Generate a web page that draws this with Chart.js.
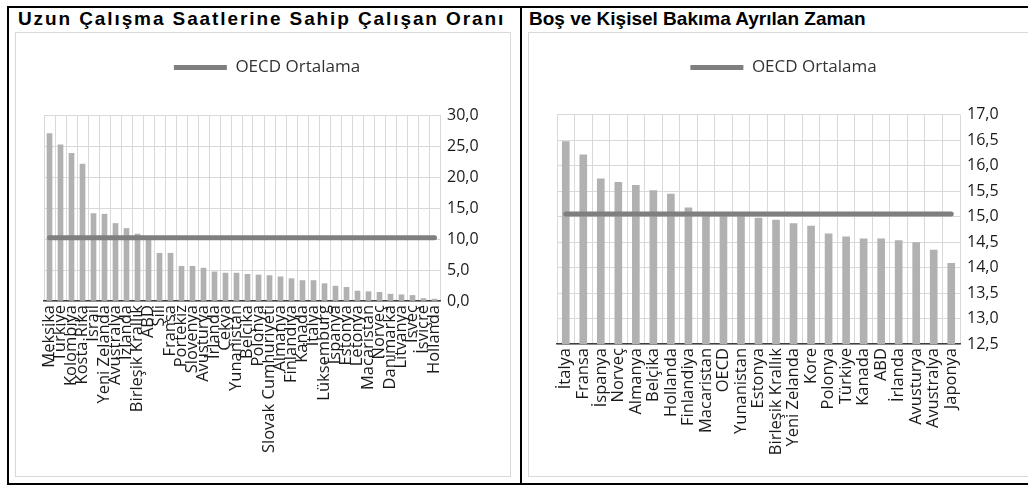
<!DOCTYPE html>
<html lang="tr">
<head>
<meta charset="utf-8">
<script src="https://cdn.jsdelivr.net/npm/chart.js@4.4.1/dist/chart.umd.min.js"></script>
<style>
  html, body { margin: 0; padding: 0; background: #fff; width: 1028px; height: 490px; overflow: hidden; }
  body { position: relative; font-family: "Liberation Sans", Arial, sans-serif; }
  .rule { position: absolute; background: #000; }
  .ttl { position: absolute; top: 8px; font-weight: bold; font-size: 19px; color: #000; white-space: nowrap; }
  .frame { position: absolute; top: 32px; height: 445px; border: 1px solid #d9d9d9; box-sizing: border-box; }
  .frame canvas { position: absolute; left: 0; top: 0; }
</style>
</head>
<body>
<div class="rule" style="left:7px;top:6px;width:1030px;height:2px"></div>
<div class="rule" style="left:7px;top:6px;width:2px;height:479px"></div>
<div class="rule" style="left:7px;top:483px;width:1030px;height:2px"></div>
<div class="rule" style="left:520px;top:6px;width:2px;height:479px"></div>

<div class="ttl" style="left:18px;letter-spacing:1.9px">Uzun Çalışma Saatlerine Sahip Çalışan Oranı</div>
<div class="ttl" style="left:529px">Boş ve Kişisel Bakıma Ayrılan Zaman</div>

<div class="frame" style="left:15px;width:496px"><canvas id="left" width="494" height="443"></canvas></div>
<div class="frame" style="left:528px;width:520px"><canvas id="right" width="510" height="443"></canvas></div>

<script>
'use strict';
// --- Sol grafik: uzun çalışma saatlerine sahip çalışan oranı (%) ---
const LEFT_LABELS = ['Meksika', 'Türkiye', 'Kolombiya', 'Kosta Rika', 'İsrail', 'Yeni Zelanda', 'Avustralya', 'İzlanda',
  'Birleşik Krallık', 'ABD', 'Şili', 'Fransa', 'Portekiz', 'Slovenya', 'Avusturya', 'İrlanda', 'Çekya', 'Yunanistan',
  'Belçika', 'Polonya', 'Slovak Cumhuriyeti', 'Almanya', 'Finlandiya', 'Kanada', 'İtalya', 'Lüksemburg', 'İspanya',
  'Estonya', 'Letonya', 'Macaristan', 'Norveç', 'Danimarka', 'Litvanya', 'İsveç', 'İsviçre', 'Hollanda'];
const LEFT_VALUES = [27.0, 25.2, 23.8, 22.1, 14.1, 14.0, 12.5, 11.7, 10.8, 10.3, 7.7, 7.7, 5.6, 5.6, 5.3, 4.7, 4.5, 4.5,
  4.3, 4.2, 4.1, 3.9, 3.6, 3.3, 3.3, 2.8, 2.4, 2.2, 1.6, 1.5, 1.4, 1.1, 1.0, 0.9, 0.4, 0.3];
const LEFT_OECD = 10.2;
const LEFT_TICKS = { min: 0, max: 30, step: 5 };

// --- Sağ grafik: boş ve kişisel bakıma ayrılan zaman (saat/gün) ---
const RIGHT_LABELS = ['İtalya', 'Fransa', 'İspanya', 'Norveç', 'Almanya', 'Belçika', 'Hollanda', 'Finlandiya', 'Macaristan',
  'OECD', 'Yunanistan', 'Estonya', 'Birleşik Krallık', 'Yeni Zelanda', 'Kore', 'Polonya', 'Türkiye', 'Kanada', 'ABD',
  'İrlanda', 'Avusturya', 'Avustralya', 'Japonya'];
const RIGHT_VALUES = [16.47, 16.21, 15.74, 15.67, 15.61, 15.51, 15.44, 15.17, 15.06, 15.04, 15.02, 14.97, 14.93, 14.86,
  14.81, 14.66, 14.60, 14.56, 14.56, 14.53, 14.49, 14.34, 14.08];
const RIGHT_OECD = 15.05;
const RIGHT_TICKS = { min: 12.5, max: 17, step: 0.5 };

const BAR = '#b1b1b1', LINE = '#7f7f7f', GRID = '#d9d9d9', TXT = '#1a1a1a';
const fNum = v => v.toFixed(1).replace('.', ',');

// legend ile çizim alanı arasına boşluk ekler
const legendGap = {
  id: 'legendGap',
  beforeInit(chart, _a, opts) {
    const fit = chart.legend.fit;
    chart.legend.fit = function () { fit.bind(chart.legend)(); this.height += opts.gap; };
  },
};

function build(id, labels, values, oecd, ticks, o) {
  new Chart(document.getElementById(id).getContext('2d'), {
    data: {
      labels,
      datasets: [
        { type: 'bar', label: 'Değer', data: values, backgroundColor: BAR, borderWidth: 0, barThickness: o.bar, order: 2 },
        { type: 'line', label: 'OECD Ortalama', data: labels.map(() => oecd), borderColor: LINE, backgroundColor: LINE,
          borderWidth: 5, borderCapStyle: 'round', pointRadius: 0, order: 1 },
      ],
    },
    plugins: [legendGap],
    options: {
      responsive: false, animation: false, events: [],
      layout: { padding: { left: o.left, right: o.right, top: 16, bottom: 0 } },
      plugins: {
        tooltip: { enabled: false },
        legendGap: { gap: o.gap },
        legend: {
          position: 'top',
          labels: {
            color: '#333', font: { family: 'Open Sans', size: 17 }, boxWidth: 53, boxHeight: 5, padding: 10,
            generateLabels: () => [{ text: 'OECD Ortalama', fillStyle: LINE, strokeStyle: LINE, lineWidth: 0, datasetIndex: 1, fontColor: '#333' }],
          },
        },
      },
      scales: {
        x: {
          offset: true,
          grid: { color: GRID, offset: true, drawTicks: false },
          border: { color: '#404040', width: 1.5 },
          ticks: { color: TXT, font: { family: 'Open Sans', size: 16.5 }, autoSkip: false, maxRotation: 90, minRotation: 90, padding: 4 },
          afterFit: s => { s.height = o.xh; },
        },
        y: {
          position: 'right', min: ticks.min, max: ticks.max,
          grid: { color: GRID, drawTicks: false },
          border: { display: false },
          ticks: { stepSize: ticks.step, color: TXT, font: { family: 'Open Sans', size: 16 }, padding: 7, callback: v => fNum(v) },
          afterFit: s => { s.width = 50; },
        },
      },
    },
  });
}

// sol: plot 44..440 x, 115..301 y (sayfa koordinatları)
build('left', LEFT_LABELS, LEFT_VALUES, LEFT_OECD, LEFT_TICKS, { bar: 5, left: 28, right: 20, gap: 29, xh: 175 });
// sağ: plot 557..960 x, 114.5..344 y
build('right', RIGHT_LABELS, RIGHT_VALUES, RIGHT_OECD, RIGHT_TICKS, { bar: 7, left: 28, right: 29, gap: 28.5, xh: 132 });
</script>
</body>
</html>
